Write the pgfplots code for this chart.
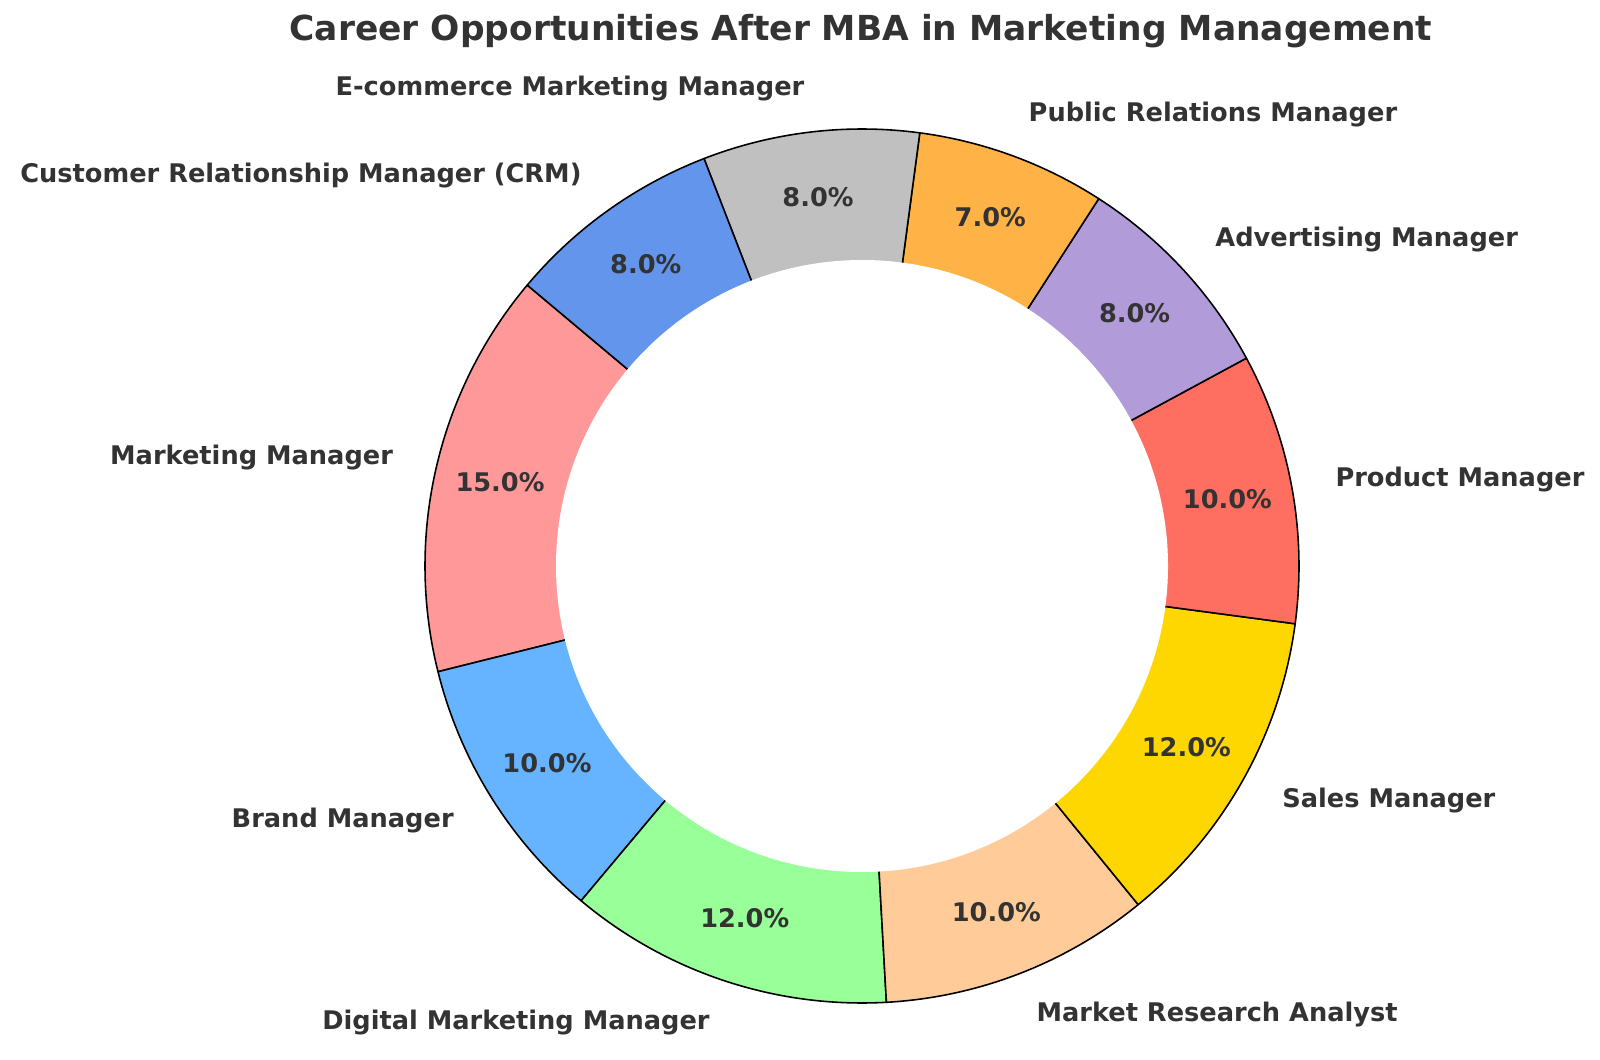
\documentclass[border=0pt]{standalone}
\usepackage{pgfplots}
\usepackage{pgfplotstable}
\pgfplotsset{compat=1.18}
\usepackage{fontspec}
\setmainfont{DejaVu Sans}
\definecolor{txt}{HTML}{333333}
\definecolor{c0}{HTML}{FF9999}
\definecolor{c1}{HTML}{66B3FF}
\definecolor{c2}{HTML}{99FF99}
\definecolor{c3}{HTML}{FFCC99}
\definecolor{c4}{HTML}{FFD700}
\definecolor{c5}{HTML}{FF6F61}
\definecolor{c6}{HTML}{B19CD9}
\definecolor{c7}{HTML}{FFB347}
\definecolor{c8}{HTML}{C0C0C0}
\definecolor{c9}{HTML}{6495ED}
\pgfplotstableread[col sep=comma]{
label,value,color
Marketing Manager,15,c0
Brand Manager,10,c1
Digital Marketing Manager,12,c2
Market Research Analyst,10,c3
Sales Manager,12,c4
Product Manager,10,c5
Advertising Manager,8,c6
Public Relations Manager,7,c7
E-commerce Marketing Manager,8,c8
Customer Relationship Manager (CRM),8,c9
}\datatable
\newcommand{\labfont}{\fontsize{7.3}{8.8}\selectfont\bfseries\color{txt}}
\begin{document}
\begin{tikzpicture}
\begin{axis}[x=1cm,y=1cm,xmin=0,xmax=16,ymin=0,ymax=10.59,hide axis,clip=false,scale only axis]
\addplot[draw=none] coordinates {(0,0) (16,10.59)};
\pgfplotsextra{
 \begin{scope}[shift={(axis cs:8.62,4.93)}]
 \pgfplotstablegetrowsof{\datatable}
 \pgfmathtruncatemacro{\N}{\pgfplotsretval-1}
 \xdef\cum{140}
 \foreach \i in {0,...,\N}{
   \pgfplotstablegetelem{\i}{value}\of{\datatable}\let\v\pgfplotsretval
   \pgfplotstablegetelem{\i}{color}\of{\datatable}\let\c\pgfplotsretval
   \pgfmathsetmacro{\a}{\cum}
   \pgfmathsetmacro{\b}{\cum+3.6*\v}
   \filldraw[fill=\c,draw=black,line width=0.45pt,line join=round] (0,0) -- (\a:4.37) arc[start angle=\a,end angle=\b,radius=4.37] -- cycle;
   \xdef\cum{\b}
 }
 \fill[white] (0,0) circle[radius=3.06];
 \xdef\cum{140}
 \foreach \i in {0,...,\N}{
   \pgfplotstablegetelem{\i}{value}\of{\datatable}\let\v\pgfplotsretval
   \pgfplotstablegetelem{\i}{label}\of{\datatable}\let\l\pgfplotsretval
   \pgfmathsetmacro{\m}{\cum+1.8*\v}
   \pgfmathsetmacro{\cx}{cos(\m)}
   \ifdim\cx pt>0pt \def\anc{west}\else\def\anc{east}\fi
   \node[anchor=\anc,inner sep=0pt] at (\m:4.807) {\labfont\l};
   \node[inner sep=0pt] at (\m:3.715) {\labfont\pgfmathprintnumber[assume math mode=true,fixed,fixed zerofill,precision=1]{\v}\%};
   \pgfmathsetmacro{\b}{\cum+3.6*\v}
   \xdef\cum{\b}
 }
 \end{scope}
 \node[font=\fontsize{9.8}{11.8}\selectfont\bfseries,text=txt,inner sep=0pt] at (axis cs:8.61,10.28) {Career Opportunities After MBA in Marketing Management};
}
\end{axis}
\end{tikzpicture}
\end{document}
